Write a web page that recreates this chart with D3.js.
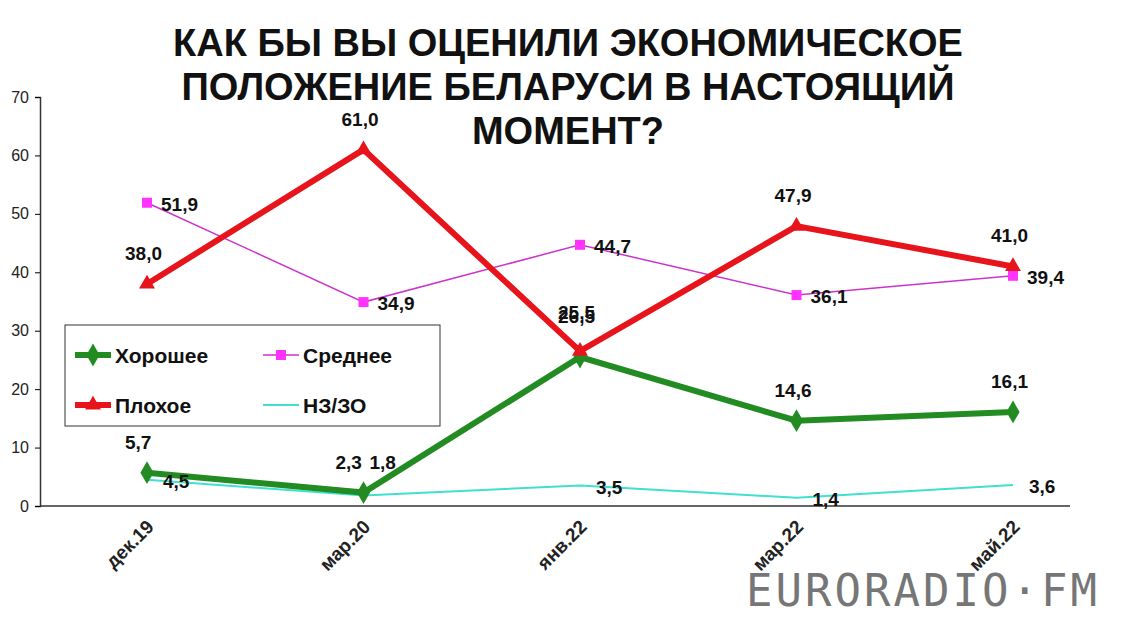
<!DOCTYPE html>
<html><head><meta charset="utf-8">
<script src="https://cdn.jsdelivr.net/npm/d3@7"></script>
<style>body{margin:0;background:#fff}svg{font-family:Arial,"Liberation Sans",sans-serif}</style>
</head><body><svg id="chart" width="1123" height="622"></svg>
<script>
var categories = ['дек.19','мар.20','янв.22','мар.22','май.22'];
var good = [5.7, 2.3, 25.5, 14.6, 16.1];
var medium = [51.9, 34.9, 44.7, 36.1, 39.4];
var bad = [38.0, 61.0, 26.5, 47.9, 41.0];
var unknown = [4.5, 1.8, 3.5, 1.4, 3.6];
var yTicks = [0,10,20,30,40,50,60,70];

var svg = d3.select('#chart');
var x = d3.scalePoint().domain(categories).range([147, 1013]);
var y = d3.scaleLinear().domain([0, 70]).range([506, 97]);
var fmt = function(v){ return v.toFixed(1).replace('.', ','); };

// title
['КАК БЫ ВЫ ОЦЕНИЛИ ЭКОНОМИЧЕСКОЕ','ПОЛОЖЕНИЕ БЕЛАРУСИ В НАСТОЯЩИЙ','МОМЕНТ?'].forEach(function(t,i){
  svg.append('text').attr('x',568).attr('y',56+i*44).attr('text-anchor','middle')
    .attr('font-size',38).attr('font-weight','bold').attr('fill','#111').text(t);
});

// axes
var yAxis = svg.append('g').attr('transform','translate(40,0)')
  .call(d3.axisLeft(y).tickValues(yTicks).tickSize(5).tickPadding(6));
yAxis.selectAll('text').attr('font-size',16).attr('fill','#222');
yAxis.select('.domain').attr('stroke','#333').attr('stroke-width',1.5);
var xAxis = svg.append('g').attr('transform','translate(0,506)')
  .call(d3.axisBottom(x).tickSize(0).tickFormat(''));
svg.append('line').attr('x1',40).attr('x2',1070).attr('y1',506).attr('y2',506).attr('stroke','#333').attr('stroke-width',1.5);
xAxis.select('.domain').remove();
categories.forEach(function(c){
  svg.append('text').attr('transform','translate('+(x(c)+8)+',528) rotate(-45)')
    .attr('text-anchor','end').attr('font-size',19).attr('font-weight','bold').attr('fill','#222').text(c);
});

var line = d3.line().x(function(d,i){return x(categories[i]);}).y(function(d){return y(d);});
var series = [
  {name:'НЗ/ЗО', data:unknown, color:'#40e0d0', width:2, marker:'none'},
  {name:'Среднее', data:medium, color:'#cc33cc', width:1.5, marker:'square'},
  {name:'Хорошее', data:good, color:'#228b22', width:6, marker:'diamond'},
  {name:'Плохое', data:bad, color:'#e8141c', width:6, marker:'triangle'}
];
function marker(g, s, cx, cy){
  if (s.marker==='square') g.append('rect').attr('x',cx-5).attr('y',cy-5).attr('width',10).attr('height',10).attr('fill','#ff33ff');
  if (s.marker==='diamond') g.append('path').attr('d',d3.symbol(d3.symbolDiamond,150)()).attr('transform','translate('+cx+','+cy+')').attr('fill',s.color);
  if (s.marker==='triangle') g.append('path').attr('d',d3.symbol(d3.symbolTriangle,110)()).attr('transform','translate('+cx+','+cy+')').attr('fill',s.color);
}
series.forEach(function(s){
  svg.append('path').datum(s.data).attr('d',line).attr('fill','none')
    .attr('stroke',s.color).attr('stroke-width',s.width).attr('stroke-linejoin','miter');
  var g = svg.append('g');
  s.data.forEach(function(v,i){ marker(g, s, x(categories[i]), y(v)); });
});

// labels
function lbl(data, off){
  data.forEach(function(v,i){
    var o = off(i);
    svg.append('text').attr('x',x(categories[i])+o[0]).attr('y',y(v)+o[1])
      .attr('font-size',19).attr('font-weight','bold').attr('fill','#111').text(fmt(v));
  });
}
lbl(bad, function(i){ return [-22, i==2 ? -28 : -24]; });
lbl(good, function(i){ return [i==1 ? -28 : -22, i==2 ? -38 : -24]; });
lbl(medium, function(i){ return [14,8]; });
lbl(unknown, function(i){ return [i==1 ? 6 : 16, i==1 ? -26 : 8]; });

// legend
var lg = svg.append('g');
lg.append('rect').attr('x',65).attr('y',325).attr('width',375).attr('height',101).attr('fill','#fff').attr('stroke','#333').attr('stroke-width',1);
var items = [[series[2],75,355],[series[1],263,355],[series[3],75,405],[series[0],263,405]];
items.forEach(function(it){
  var s=it[0];
  lg.append('line').attr('x1',it[1]).attr('x2',it[1]+36).attr('y1',it[2]).attr('y2',it[2]).attr('stroke',s.color).attr('stroke-width',s.width);
  marker(lg, s, it[1]+18, it[2]);
  lg.append('text').attr('x',it[1]+40).attr('y',it[2]+8).attr('font-size',21).attr('font-weight','bold').attr('fill','#111').text(s.name);
});

// watermark
svg.append('text').attr('x',1100).attr('y',606).attr('text-anchor','end').attr('font-size',44)
  .attr('font-family','DejaVu Sans Mono, monospace').attr('fill','#555').attr('opacity',0.8)
  .attr('letter-spacing',3).text('EURORADIO·FM');
</script></body></html>
